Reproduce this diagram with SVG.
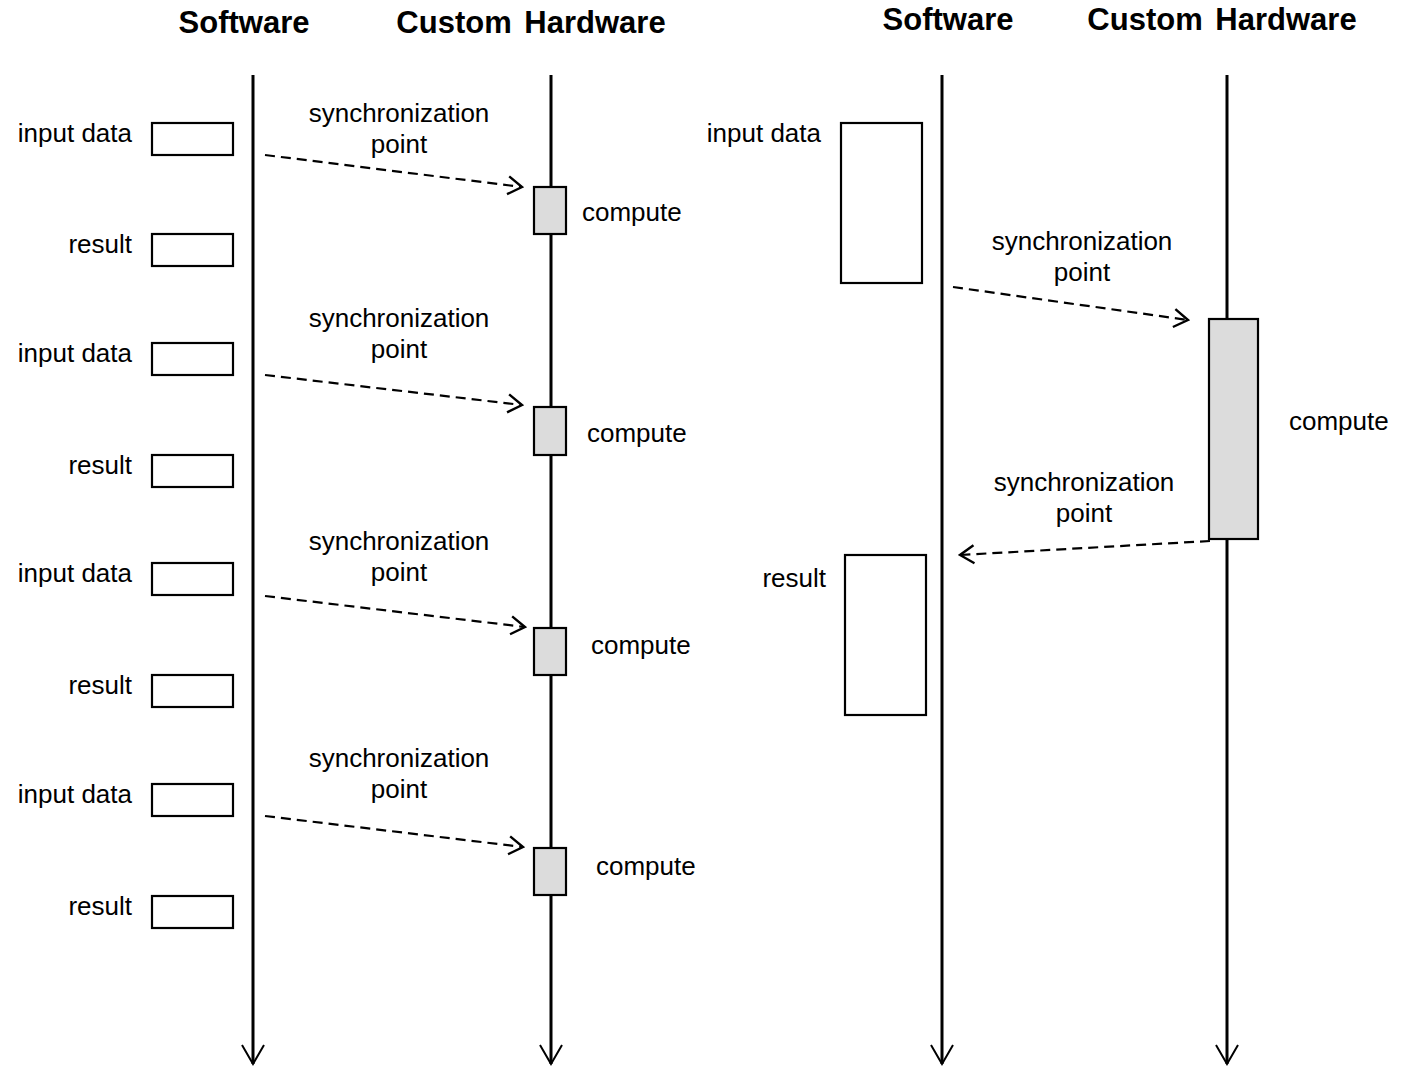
<svg xmlns="http://www.w3.org/2000/svg" width="1401" height="1067" viewBox="0 0 1401 1067">
<style>
text{font-family:"Liberation Sans",Arial,sans-serif;fill:#000}
.h{font-size:31px;font-weight:bold;text-anchor:middle}
.t{font-size:26px}
.m{text-anchor:middle}
.e{text-anchor:end}
.life{stroke:#000;stroke-width:3;fill:none}
.box{fill:#fff;stroke:#000;stroke-width:2.2}
.cb{fill:#dcdcdc;stroke:#000;stroke-width:2.2}
.dash{stroke:#000;stroke-width:2.2;fill:none;stroke-dasharray:10,6}
.ah{stroke:#000;stroke-width:2;fill:none}
</style>
<defs>
<marker id="open" viewBox="0 0 18 22" refX="16" refY="11" markerWidth="18" markerHeight="22" markerUnits="userSpaceOnUse" orient="auto">
<path d="M2,2 L16,11 L2,20" fill="none" stroke="#000" stroke-width="2.4"/>
</marker>
</defs>
<g id="headers">
<text class="h" x="244" y="33">Software</text>
<text class="h" x="531" y="33" word-spacing="4">Custom Hardware</text>
<text class="h" x="948" y="30">Software</text>
<text class="h" x="1222" y="30" word-spacing="4">Custom Hardware</text>
</g>
<g id="lifelines">
<path class="life" d="M253,75 V1064"/>
<path class="life" d="M551,75 V1064"/>
<path class="life" d="M942,75 V1064"/>
<path class="life" d="M1227,75 V1064"/>
<path class="ah" stroke-width="3" d="M242,1045 L253,1064 L264,1045 M540,1045 L551,1064 L562,1045 M931,1045 L942,1064 L953,1045 M1216,1045 L1227,1064 L1238,1045"/>
</g>
<g id="left-sw">
<g id="in1"><rect class="box" x="152" y="123" width="81" height="32"/><text class="t e" x="132" y="142">input data</text></g>
<g id="res1"><rect class="box" x="152" y="234" width="81" height="32"/><text class="t e" x="132" y="253">result</text></g>
<g id="in2"><rect class="box" x="152" y="343" width="81" height="32"/><text class="t e" x="132" y="362">input data</text></g>
<g id="res2"><rect class="box" x="152" y="455" width="81" height="32"/><text class="t e" x="132" y="474">result</text></g>
<g id="in3"><rect class="box" x="152" y="563" width="81" height="32"/><text class="t e" x="132" y="582">input data</text></g>
<g id="res3"><rect class="box" x="152" y="675" width="81" height="32"/><text class="t e" x="132" y="694">result</text></g>
<g id="in4"><rect class="box" x="152" y="784" width="81" height="32"/><text class="t e" x="132" y="803">input data</text></g>
<g id="res4"><rect class="box" x="152" y="896" width="81" height="32"/><text class="t e" x="132" y="915">result</text></g>
</g>
<g id="left-hw">
<g id="c1"><rect class="cb" x="534" y="187" width="32" height="47"/><text class="t" x="582" y="221">compute</text></g>
<g id="c2"><rect class="cb" x="534" y="407" width="32" height="48"/><text class="t" x="587" y="442">compute</text></g>
<g id="c3"><rect class="cb" x="534" y="628" width="32" height="47"/><text class="t" x="591" y="654">compute</text></g>
<g id="c4"><rect class="cb" x="534" y="848" width="32" height="47"/><text class="t" x="596" y="875">compute</text></g>
</g>
<g id="right">
<g id="rin"><rect class="box" x="841" y="123" width="81" height="160"/><text class="t e" x="821" y="142">input data</text></g>
<g id="rres"><rect class="box" x="845" y="555" width="81" height="160"/><text class="t e" x="826" y="587">result</text></g>
<g id="rc"><rect class="cb" x="1209" y="319" width="49" height="220"/><text class="t" x="1289" y="430">compute</text></g>
</g>
<g id="connectors">
<path class="dash" d="M265,155 L522,187" marker-end="url(#open)"/>
<path class="dash" d="M265,375 L522,405" marker-end="url(#open)"/>
<path class="dash" d="M265,596 L525,627" marker-end="url(#open)"/>
<path class="dash" d="M265,816 L523,847" marker-end="url(#open)"/>
<path class="dash" d="M953,287 L1188,320" marker-end="url(#open)"/>
<path class="dash" d="M1210,541 L960,555" marker-end="url(#open)"/>
</g>
<g id="labels">
<text class="t m" x="399" y="122">synchronization</text><text class="t m" x="399" y="153">point</text>
<text class="t m" x="399" y="327">synchronization</text><text class="t m" x="399" y="358">point</text>
<text class="t m" x="399" y="550">synchronization</text><text class="t m" x="399" y="581">point</text>
<text class="t m" x="399" y="767">synchronization</text><text class="t m" x="399" y="798">point</text>
<text class="t m" x="1082" y="250">synchronization</text><text class="t m" x="1082" y="281">point</text>
<text class="t m" x="1084" y="491">synchronization</text><text class="t m" x="1084" y="522">point</text>
</g>
</svg>
